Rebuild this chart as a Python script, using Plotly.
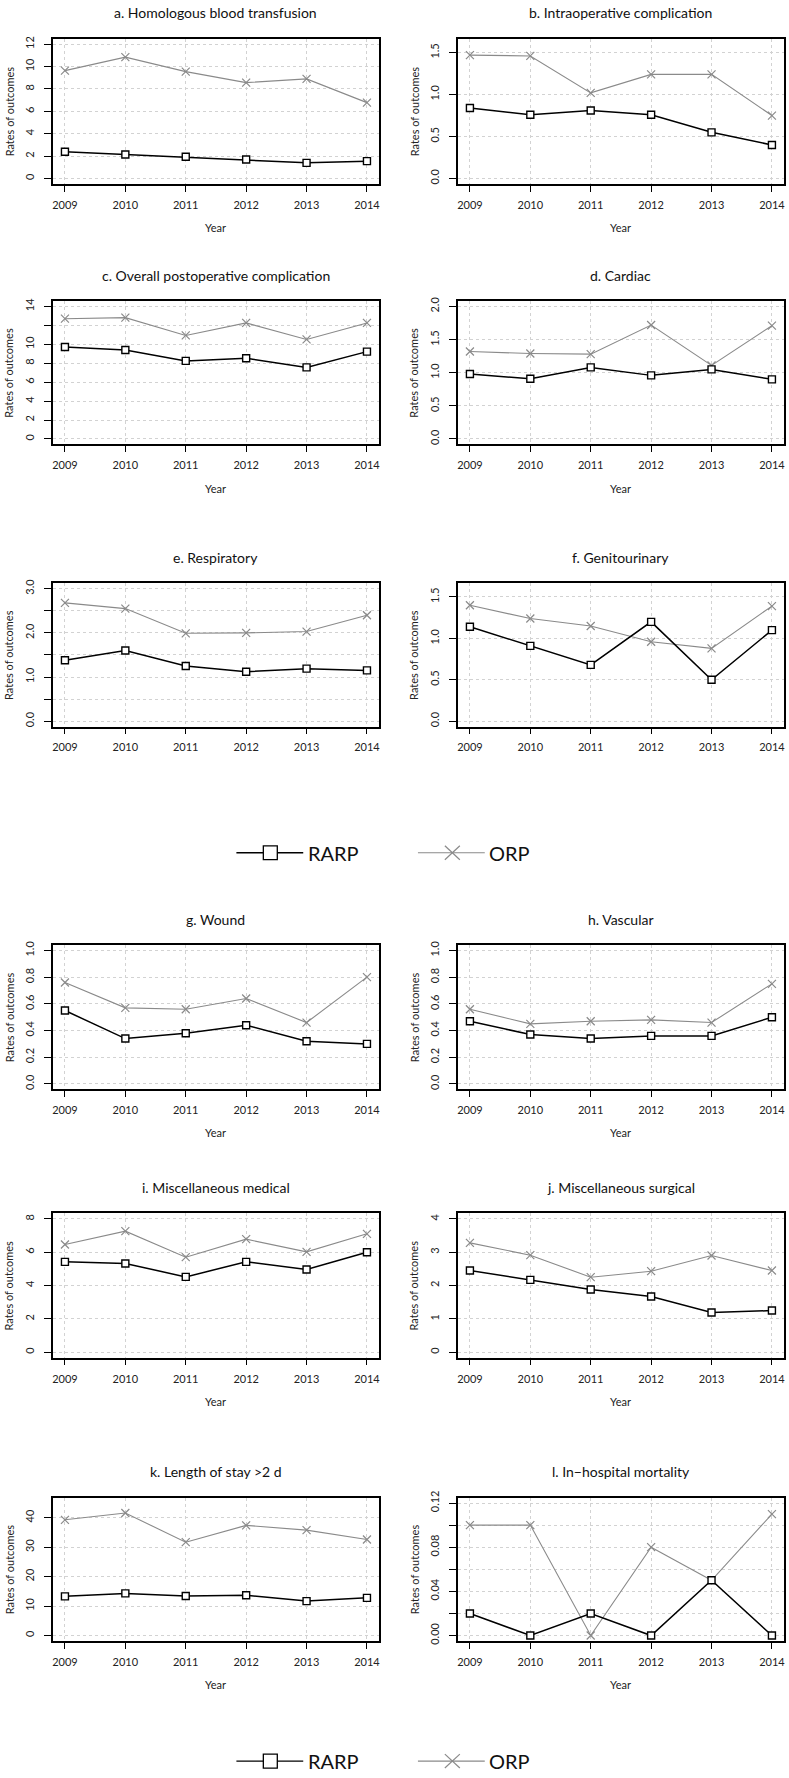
import plotly.graph_objects as go

W, H = 789, 1778

years = [2009, 2010, 2011, 2012, 2013, 2014]

# rates of outcomes per panel (RARP / ORP)
rarp_a = [2.39, 2.15, 1.94, 1.70, 1.40, 1.55]
orp_a = [9.64, 10.84, 9.55, 8.57, 8.90, 6.78]
rarp_b = [0.84, 0.76, 0.81, 0.76, 0.55, 0.40]
orp_b = [1.47, 1.46, 1.02, 1.24, 1.24, 0.75]
rarp_c = [9.72, 9.40, 8.25, 8.53, 7.56, 9.23]
orp_c = [12.71, 12.82, 10.94, 12.26, 10.52, 12.26]
rarp_d = [0.98, 0.91, 1.08, 0.96, 1.05, 0.90]
orp_d = [1.32, 1.29, 1.28, 1.72, 1.11, 1.71]
rarp_e = [1.38, 1.60, 1.25, 1.12, 1.19, 1.15]
orp_e = [2.68, 2.55, 1.99, 2.00, 2.03, 2.40]
rarp_f = [1.14, 0.91, 0.68, 1.20, 0.50, 1.10]
orp_f = [1.40, 1.24, 1.15, 0.96, 0.88, 1.39]
rarp_g = [0.55, 0.34, 0.38, 0.44, 0.32, 0.30]
orp_g = [0.76, 0.57, 0.56, 0.64, 0.46, 0.80]
rarp_h = [0.47, 0.37, 0.34, 0.36, 0.36, 0.50]
orp_h = [0.56, 0.45, 0.47, 0.48, 0.46, 0.75]
rarp_i = [5.42, 5.32, 4.52, 5.42, 4.96, 6.00]
orp_i = [6.46, 7.26, 5.70, 6.78, 6.02, 7.10]
rarp_j = [2.45, 2.17, 1.88, 1.67, 1.19, 1.25]
orp_j = [3.28, 2.91, 2.25, 2.43, 2.90, 2.45]
rarp_k = [13.3, 14.3, 13.4, 13.7, 11.7, 12.8]
orp_k = [39.3, 41.6, 31.7, 37.4, 35.8, 32.6]
rarp_l = [0.02, 0.00, 0.02, 0.00, 0.05, 0.00]
orp_l = [0.10, 0.10, 0.00, 0.08, 0.05, 0.11]

titles = ["a. Homologous blood transfusion", "b. Intraoperative complication",
          "c. Overall postoperative complication", "d. Cardiac",
          "e. Respiratory", "f. Genitourinary",
          "g. Wound", "h. Vascular",
          "i. Miscellaneous medical", "j. Miscellaneous surgical",
          "k. Length of stay >2 d", "l. In\u2212hospital mortality"]

rarp = [rarp_a, rarp_b, rarp_c, rarp_d, rarp_e, rarp_f,
        rarp_g, rarp_h, rarp_i, rarp_j, rarp_k, rarp_l]
orp = [orp_a, orp_b, orp_c, orp_d, orp_e, orp_f,
       orp_g, orp_h, orp_i, orp_j, orp_k, orp_l]

# y limits, tick positions and labels (R drops labels that would overlap)
ymax = [12, 1.6, 14, 2, 3, 1.6, 1, 1, 8, 4, 45, 0.12]
ytickvals = [
    [0, 2, 4, 6, 8, 10, 12],
    [0, 0.5, 1, 1.5],
    [0, 2, 4, 6, 8, 10, 12, 14],
    [0, 0.5, 1, 1.5, 2],
    [0, 0.5, 1, 1.5, 2, 2.5, 3],
    [0, 0.5, 1, 1.5],
    [0, 0.2, 0.4, 0.6, 0.8, 1],
    [0, 0.2, 0.4, 0.6, 0.8, 1],
    [0, 2, 4, 6, 8],
    [0, 1, 2, 3, 4],
    [0, 10, 20, 30, 40],
    [0, 0.02, 0.04, 0.06, 0.08, 0.10, 0.12],
]
yticktext = [
    ["0", "2", "4", "6", "8", "10", "12"],
    ["0.0", "0.5", "1.0", "1.5"],
    ["0", "2", "4", "6", "8", "10", "", "14"],
    ["0.0", "0.5", "1.0", "1.5", "2.0"],
    ["0.0", "", "1.0", "", "2.0", "", "3.0"],
    ["0.0", "0.5", "1.0", "1.5"],
    ["0.0", "0.2", "0.4", "0.6", "0.8", "1.0"],
    ["0.0", "0.2", "0.4", "0.6", "0.8", "1.0"],
    ["0", "2", "4", "6", "8"],
    ["0", "1", "2", "3", "4"],
    ["0", "10", "20", "30", "40"],
    ["0.00", "", "0.04", "", "0.08", "", "0.12"],
]

# plot boxes in pixels
col_x = [(52, 379), (458, 785)]
row_y = [(32, 178), (296, 440), (580, 724), (944, 1089), (1214, 1359), (1500, 1644)]

FONT = "Lato, 'Open Sans', sans-serif"

fig = go.Figure()
annotations = []
shapes = []

for i in range(12):
    r, c = divmod(i, 2)
    x0, x1 = col_x[c]
    y0, y1 = row_y[r]
    n = "" if i == 0 else str(i + 1)
    xa, ya = "x" + n, "y" + n

    fig.add_trace(go.Scatter(
        x=years, y=orp[i], xaxis=xa, yaxis=ya, mode="lines+markers",
        line=dict(color="#8a8a8a", width=1.1),
        marker=dict(symbol="x-thin-open", size=8, line=dict(color="#8a8a8a", width=1.2)),
        showlegend=False))
    fig.add_trace(go.Scatter(
        x=years, y=rarp[i], xaxis=xa, yaxis=ya, mode="lines+markers",
        line=dict(color="black", width=1.5),
        marker=dict(symbol="square", size=7, color="white", line=dict(color="black", width=1.4)),
        showlegend=False))

    axis_common = dict(showline=True, linecolor="black", linewidth=1.5, mirror=True,
                       ticks="outside", tickcolor="black", tickwidth=1,
                       showgrid=True, gridcolor="#d2d2d2", griddash="dot", gridwidth=1,
                       zeroline=False, tickfont=dict(family=FONT, size=11, color="#222"))
    fig.update_layout({
        "xaxis" + n: dict(domain=[x0 / W, x1 / W], range=[2008.8, 2014.2], anchor=ya,
                          tickvals=years, ticktext=[str(y) for y in years],
                          ticklen=6, ticklabelstandoff=4, **axis_common),
        "yaxis" + n: dict(domain=[1 - y1 / H, 1 - y0 / H], anchor=xa,
                          range=[-0.04 * ymax[i], 1.04 * ymax[i]],
                          tickvals=ytickvals[i], ticktext=yticktext[i], tickangle=-90,
                          ticklen=7, ticklabelstandoff=6, **axis_common),
    })

    cx = (x0 + x1) / 2
    annotations.append(dict(text=titles[i], x=cx / W, y=1 - (y0 - 26) / H, xref="paper", yref="paper",
                            showarrow=False, xanchor="center", yanchor="middle",
                            font=dict(family=FONT, size=14, color="#111")))
    if r != 2:
        annotations.append(dict(text="Year", x=cx / W, y=1 - (y1 + 44) / H, xref="paper", yref="paper",
                                showarrow=False, xanchor="center", yanchor="middle",
                                font=dict(family=FONT, size=11, color="#222")))
    annotations.append(dict(text="Rates of outcomes", x=(x0 - 44) / W, y=1 - (y0 + y1) / 2 / H,
                            xref="paper", yref="paper", showarrow=False, textangle=-90,
                            xanchor="center", yanchor="middle",
                            font=dict(family=FONT, size=11, color="#222")))

# legends (drawn twice, as in the figure)
for ly in [851, 1765]:
    yy = 1 - ly / H
    shapes.append(dict(type="line", xref="paper", yref="paper", x0=236 / W, x1=303 / W, y0=yy, y1=yy,
                       line=dict(color="black", width=1.3)))
    shapes.append(dict(type="rect", xref="paper", yref="paper", x0=263 / W, x1=277 / W,
                       y0=1 - (ly + 7) / H, y1=1 - (ly - 7) / H, fillcolor="white",
                       line=dict(color="black", width=1.3)))
    shapes.append(dict(type="line", xref="paper", yref="paper", x0=418 / W, x1=485 / W, y0=yy, y1=yy,
                       line=dict(color="#8a8a8a", width=1.2)))
    shapes.append(dict(type="line", xref="paper", yref="paper", x0=445 / W, x1=460 / W,
                       y0=1 - (ly - 7) / H, y1=1 - (ly + 7) / H, line=dict(color="#8a8a8a", width=1.2)))
    shapes.append(dict(type="line", xref="paper", yref="paper", x0=445 / W, x1=460 / W,
                       y0=1 - (ly + 7) / H, y1=1 - (ly - 7) / H, line=dict(color="#8a8a8a", width=1.2)))
    annotations.append(dict(text="RARP", x=306 / W, y=yy, xref="paper", yref="paper", showarrow=False,
                            xanchor="left", yanchor="middle", font=dict(family=FONT, size=20, color="#111")))
    annotations.append(dict(text="ORP", x=487 / W, y=yy, xref="paper", yref="paper", showarrow=False,
                            xanchor="left", yanchor="middle", font=dict(family=FONT, size=20, color="#111")))

fig.update_layout(width=W, height=H, margin=dict(l=0, r=0, t=0, b=0),
                  paper_bgcolor="white", plot_bgcolor="white",
                  annotations=annotations, shapes=shapes, showlegend=False)

fig.write_html("out.html", config={"displayModeBar": False},
               post_script="document.body.style.margin='0';document.body.style.overflow='hidden';")
